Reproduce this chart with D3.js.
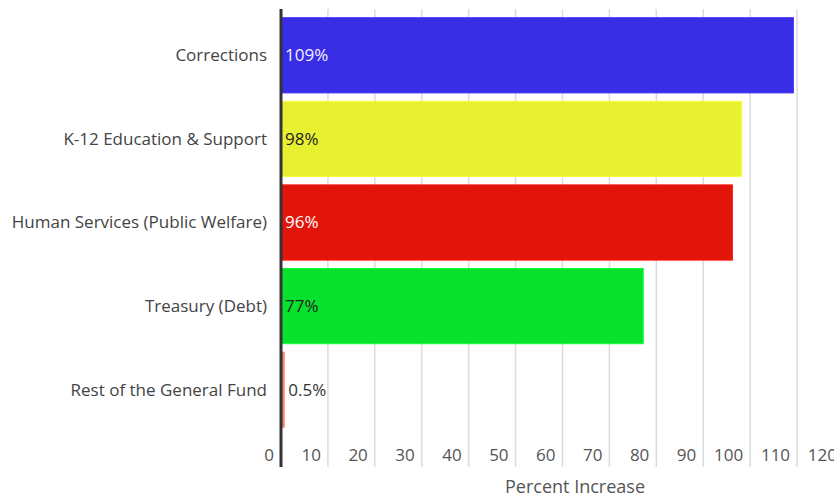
<!DOCTYPE html>
<html>
<head>
<meta charset="utf-8">
<script src="https://cdn.jsdelivr.net/npm/d3@7"></script>
<style>
  body { margin: 0; background: #fff; }
  text { font-family: "Open Sans", sans-serif; }
</style>
</head>
<body>
<div id="chart"></div>
<script>
const categories = ["Corrections", "K-12 Education & Support", "Human Services (Public Welfare)", "Treasury (Debt)", "Rest of the General Fund"];
const values = [109, 98, 96, 77, 0.5];
const valueLabels = ["109%", "98%", "96%", "77%", "0.5%"];
const barColors = ["#3a2de6", "#e8f032", "#e2150b", "#08e22e", "#f3856c"];
const labelColors = ["#f2f2ff", "#222", "#fff", "#222", "#333"];
const tickValues = [0, 10, 20, 30, 40, 50, 60, 70, 80, 90, 100, 110, 120];

function main() {
    const width = 834;
    const height = 498;

    const svg = d3.select("#chart").append("svg")
        .attr("width", width)
        .attr("height", height);

    const xScale = d3.scaleLinear()
        .domain([0, 120])
        .range([281, 844]);

    const yScale = d3.scaleBand()
        .domain(categories)
        .range([13.5, 431.5])
        .paddingInner(0.1)
        .paddingOuter(0.05);

    // gridlines
    svg.append("g")
        .selectAll("line")
        .data(tickValues.filter(d => d > 0))
        .enter().append("line")
        .attr("x1", d => xScale(d))
        .attr("x2", d => xScale(d))
        .attr("y1", 9)
        .attr("y2", 467)
        .attr("stroke", "#dcdcdc")
        .attr("stroke-width", 1.5);

    // tick labels sit just left of their gridline
    svg.append("g")
        .selectAll("text")
        .data(tickValues)
        .enter().append("text")
        .attr("x", d => xScale(d) - 7)
        .attr("y", 455)
        .attr("dy", "0.35em")
        .attr("text-anchor", "end")
        .attr("font-size", "17px")
        .attr("fill", "#555")
        .text(d => d);

    svg.append("text")
        .attr("x", 575)
        .attr("y", 487)
        .attr("dy", "0.35em")
        .attr("text-anchor", "middle")
        .attr("font-size", "18px")
        .attr("fill", "#555")
        .text("Percent Increase");

    // bars
    svg.append("g")
        .selectAll("rect")
        .data(categories)
        .enter().append("rect")
        .attr("x", xScale(0))
        .attr("y", d => yScale(d))
        .attr("width", (d, i) => xScale(values[i]) - xScale(0) + 1)
        .attr("height", yScale.bandwidth())
        .attr("fill", (d, i) => barColors[i])
        .attr("stroke", (d, i) => d3.color(barColors[i]).brighter(0.4))
        .attr("stroke-width", 1);

    // value labels
    svg.append("g")
        .selectAll("text")
        .data(categories)
        .enter().append("text")
        .attr("x", (d, i) => values[i] < 5 ? xScale(values[i]) + 5 : xScale(0) + 4)
        .attr("y", d => yScale(d) + yScale.bandwidth() / 2)
        .attr("dy", "0.35em")
        .attr("font-size", "17px")
        .attr("fill", (d, i) => labelColors[i])
        .text((d, i) => valueLabels[i]);

    // category labels
    svg.append("g")
        .selectAll("text")
        .data(categories)
        .enter().append("text")
        .attr("x", 267)
        .attr("y", d => yScale(d) + yScale.bandwidth() / 2)
        .attr("dy", "0.35em")
        .attr("text-anchor", "end")
        .attr("font-size", "17px")
        .attr("fill", "#444")
        .text(d => d);

    // axis line
    svg.append("line")
        .attr("x1", xScale(0))
        .attr("x2", xScale(0))
        .attr("y1", 9)
        .attr("y2", 467)
        .attr("stroke", "#333")
        .attr("stroke-width", 3);
}
main();
</script>
</body>
</html>
